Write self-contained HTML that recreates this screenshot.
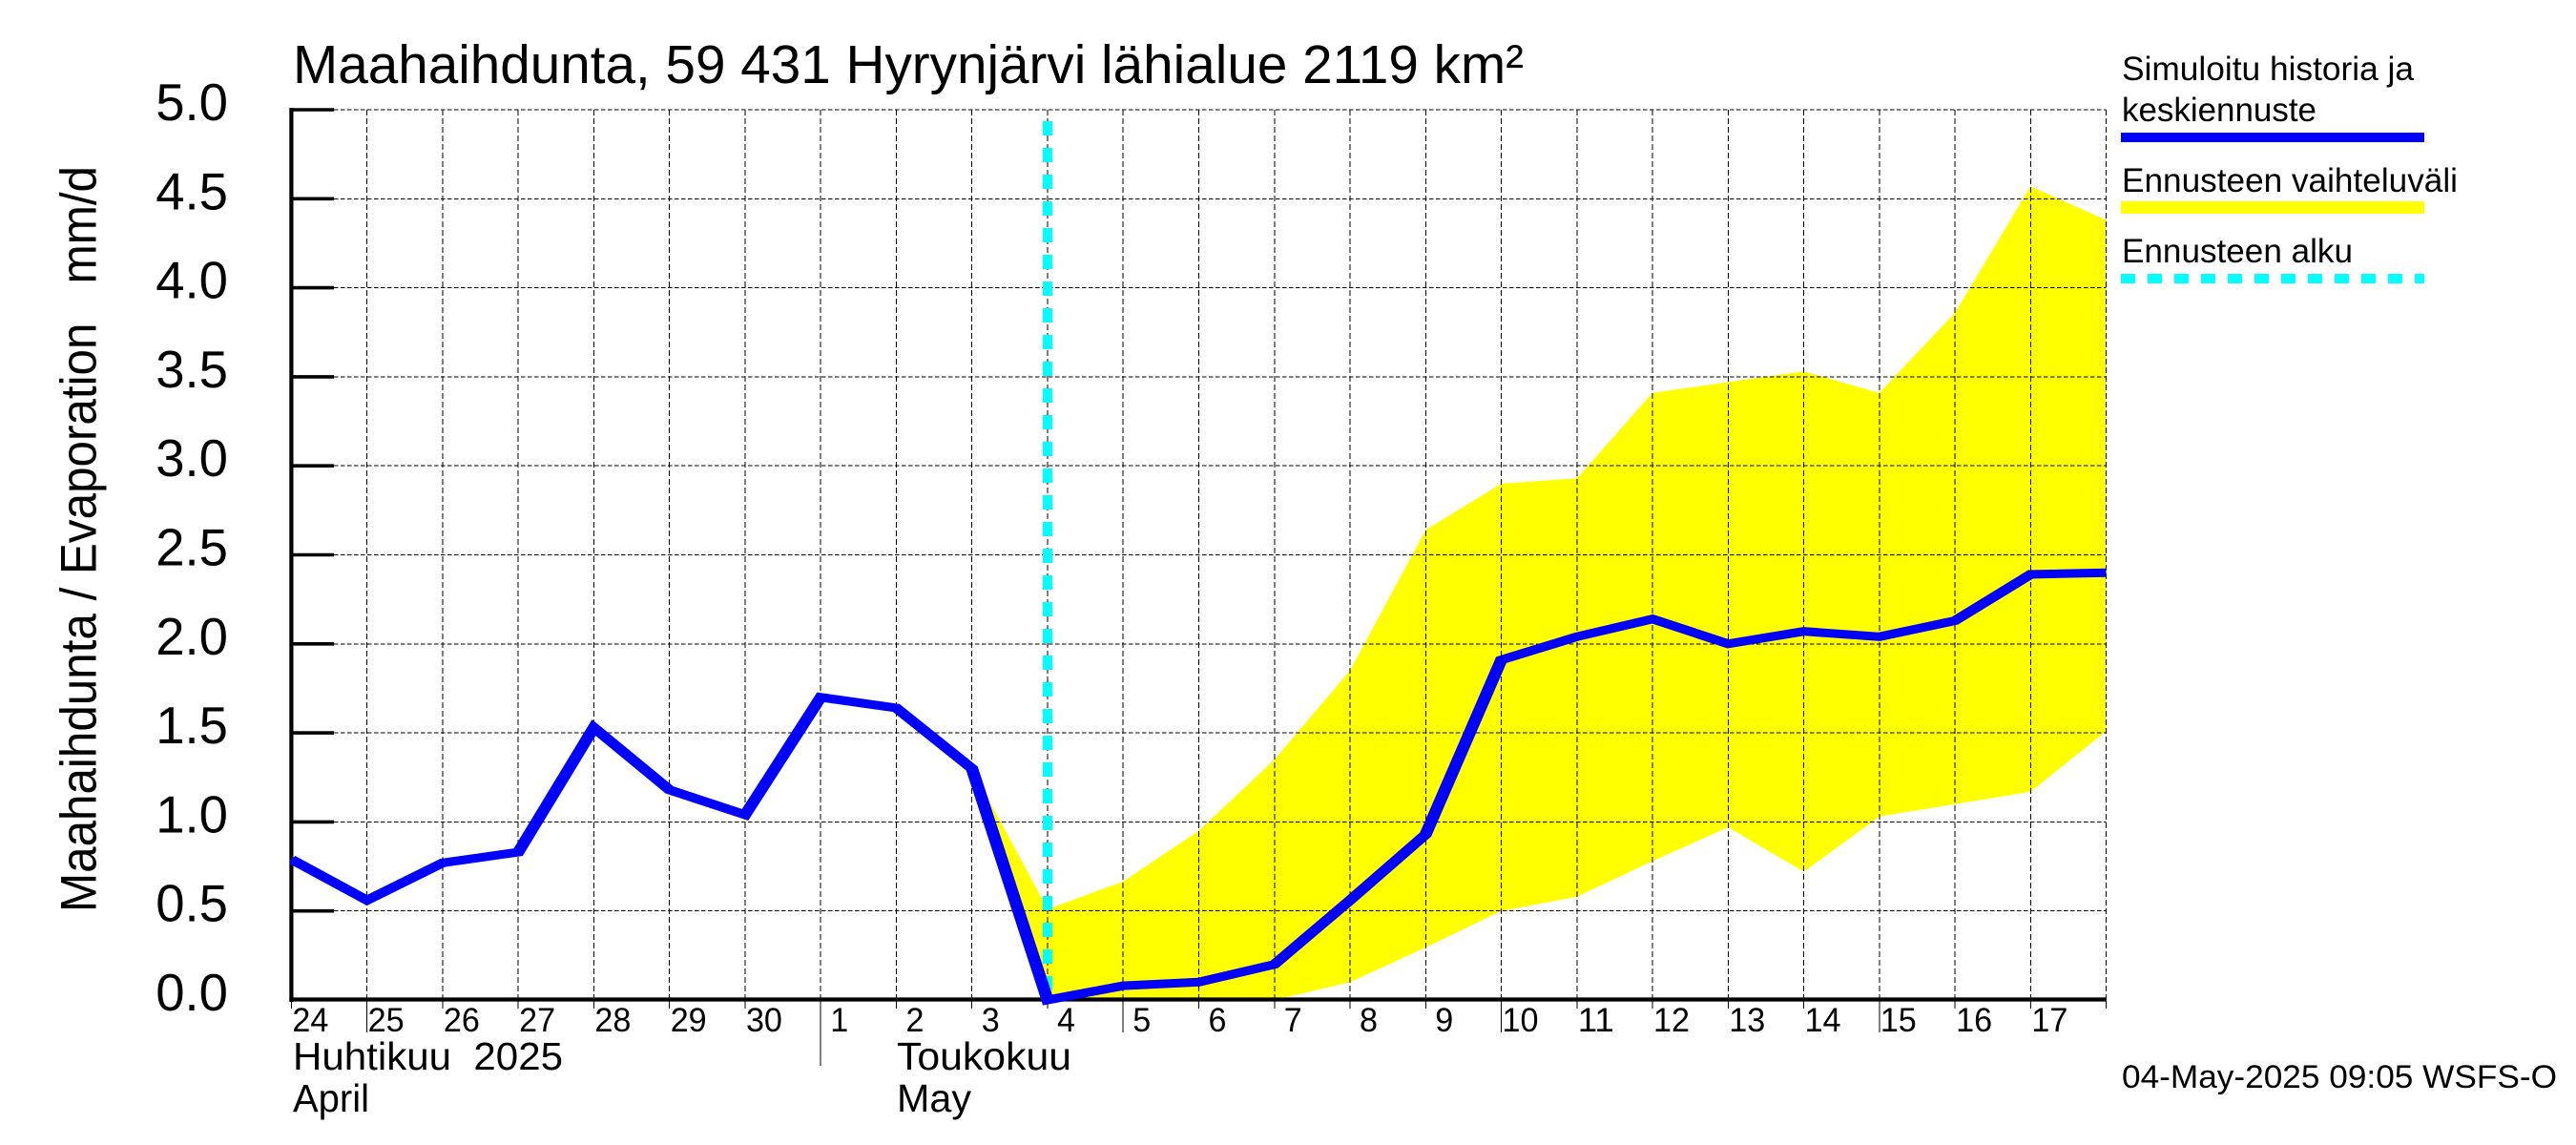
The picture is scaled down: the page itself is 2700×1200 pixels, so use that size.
<!DOCTYPE html>
<html lang="fi">
<head>
<meta charset="utf-8">
<title>Maahaihdunta, 59 431 Hyrynjärvi lähialue 2119 km²</title>
<style>
html,body{margin:0;padding:0;background:#fff;width:2700px;height:1200px;overflow:hidden}
svg{display:block}
text{font-family:"Liberation Sans",sans-serif;fill:#000}
</style>
</head>
<body>
<svg id="chart" xmlns="http://www.w3.org/2000/svg" width="2700" height="1200" viewBox="0 0 2700 1200">
  <rect x="0" y="0" width="2700" height="1200" fill="#fff"/>
  <g id="band-layer"></g>
  <g id="grid-layer" shape-rendering="crispEdges"></g>
  <g id="cyan-layer"></g>
  <g id="axis-layer"></g>
  <g id="line-layer"></g>

  <text x="307" y="87" font-size="57" textLength="1290" lengthAdjust="spacingAndGlyphs">Maahaihdunta, 59 431 Hyrynjärvi lähialue 2119 km²</text>
  <text transform="translate(100.5,956) rotate(-90)" font-size="53" textLength="782" lengthAdjust="spacingAndGlyphs" xml:space="preserve">Maahaihdunta / Evaporation   mm/d</text>

  <text x="307" y="1121" font-size="41" textLength="283" lengthAdjust="spacingAndGlyphs" xml:space="preserve">Huhtikuu  2025</text>
  <text x="307" y="1165" font-size="41" textLength="80" lengthAdjust="spacingAndGlyphs">April</text>
  <text x="940" y="1121" font-size="41" textLength="183" lengthAdjust="spacingAndGlyphs">Toukokuu</text>
  <text x="940" y="1165" font-size="41" textLength="78" lengthAdjust="spacingAndGlyphs">May</text>

  <g>
    <text x="2224" y="84" font-size="35" textLength="306" lengthAdjust="spacingAndGlyphs">Simuloitu historia ja</text>
    <text x="2224" y="127" font-size="35" textLength="204" lengthAdjust="spacingAndGlyphs">keskiennuste</text>
    <rect x="2223" y="139" width="318" height="10" fill="#0000ff"/>
    <text x="2224" y="201" font-size="35" textLength="352" lengthAdjust="spacingAndGlyphs">Ennusteen vaihteluväli</text>
    <rect x="2223" y="211" width="318" height="13" fill="#ffff00"/>
    <text x="2224" y="275" font-size="35" textLength="242" lengthAdjust="spacingAndGlyphs">Ennusteen alku</text>
    <line x1="2223" y1="292" x2="2541" y2="292" stroke="#00ffff" stroke-width="10" stroke-dasharray="15 13"/>
  </g>

  <text x="2224" y="1140" font-size="34" textLength="456" lengthAdjust="spacingAndGlyphs">04-May-2025 09:05 WSFS-O</text>
</svg>

<script>
const dayLabels = ["24","25","26","27","28","29","30","1","2","3","4","5","6","7","8","9","10","11","12","13","14","15","16","17","18"];
const longTickDays = ["25","5","10","15"];
const monthStartDays = ["1"];
const yTickValues = [0, 0.5, 1, 1.5, 2, 2.5, 3, 3.5, 4, 4.5, 5];
const yTickLabels = ["0.0","0.5","1.0","1.5","2.0","2.5","3.0","3.5","4.0","4.5","5.0"];
const historyAndMean = [0.79,0.56,0.77,0.83,1.53,1.18,1.04,1.70,1.64,1.30,0.00,0.08,0.10,0.20,0.56,0.93,1.91,2.04,2.14,2.00,2.07,2.04,2.13,2.39,2.40];
const forecastDays = ["3","4","5","6","7","8","9","10","11","12","13","14","15","16","17","18"];
const rangeUpper = [1.30,0.51,0.665,0.95,1.35,1.85,2.64,2.90,2.93,3.41,3.47,3.53,3.41,3.86,4.57,4.38];
const rangeLower = [1.30,0.00,0.00,0.00,0.00,0.10,0.295,0.50,0.58,0.78,0.97,0.72,1.03,1.10,1.17,1.51];
const forecastStartDay = "4";

const SVG_NS = "http://www.w3.org/2000/svg";
const plotLeft = 305.4, plotRight = 2207.6, plotTop = 115, plotBottom = 1048;
const yMax = 5;
const penStretch = 1.45;

function xScale(i) { return plotLeft + (plotRight - plotLeft) * i / (dayLabels.length - 1); }
function yScale(v) { return plotBottom - (plotBottom - plotTop) * v / yMax; }
function dayIndex(label, fromEnd) {
  return fromEnd ? dayLabels.lastIndexOf(label) : dayLabels.indexOf(label);
}
function make(tag, attrs, parent) {
  const el = document.createElementNS(SVG_NS, tag);
  for (const k in attrs) el.setAttribute(k, attrs[k]);
  parent.appendChild(el);
  return el;
}

const bandLayer = document.getElementById("band-layer");
const cyanLayer = document.getElementById("cyan-layer");
const gridLayer = document.getElementById("grid-layer");
const axisLayer = document.getElementById("axis-layer");
const lineLayer = document.getElementById("line-layer");

/* forecast range polygon */
const upperPts = forecastDays.map((d, k) => xScale(dayIndex(d, true)).toFixed(1) + "," + yScale(rangeUpper[k]).toFixed(1));
const lowerPts = forecastDays.map((d, k) => xScale(dayIndex(d, true)).toFixed(1) + "," + yScale(rangeLower[k]).toFixed(1)).reverse();
const band = make("polygon", { points: upperPts.concat(lowerPts).join(" "), fill: "#ffff00" }, bandLayer);



/* forecast start marker */
const startX = xScale(dayIndex(forecastStartDay, true));
const startLine = make("line", { x1: startX, x2: startX, y1: 127, y2: plotBottom, stroke: "#00ffff", "stroke-width": 10, "stroke-dasharray": "15 13" }, cyanLayer);



/* horizontal grid + y ticks */
yTickValues.forEach((v, i) => {
  const y = yScale(v);
  if (v > 0) {
    const gl = make("line", { x1: 350, x2: plotRight, y1: y, y2: y, stroke: "#000", "stroke-width": 1, "stroke-dasharray": "4.5 2.5" }, gridLayer);
    
    
    const tick = make("line", { x1: plotLeft, x2: 350, y1: y, y2: y, stroke: "#000", "stroke-width": 3.6 }, axisLayer);
    
    
  }
  const lab = make("text", { x: 239, y: y + 11, "font-size": 54.5, "text-anchor": "end" }, axisLayer);
  lab.textContent = yTickLabels[i];
  
  
});

/* vertical grid + x ticks */
dayLabels.forEach((d, i) => {
  const x = xScale(i);
  if (i > 0) {
    const gl = make("line", { x1: x, x2: x, y1: plotTop, y2: plotBottom, stroke: "#000", "stroke-width": 1, "stroke-dasharray": "6 3" }, gridLayer);
    
    
  }
  let tickEnd = 1057;
  if (longTickDays.indexOf(d) >= 0) tickEnd = 1082;
  if (monthStartDays.indexOf(d) >= 0) tickEnd = 1117;
  const tick = make("line", { x1: x, x2: x, y1: plotBottom, y2: tickEnd, stroke: "#000", "stroke-width": 1, "shape-rendering": "crispEdges" }, axisLayer);
  
  
  if (i < dayLabels.length - 1) {
    const lab = make("text", { x: x + (d.length === 1 ? 10 : 1), y: 1081, "font-size": 35, textLength: d.length === 1 ? 19 : 38, lengthAdjust: "spacingAndGlyphs" }, axisLayer);
    lab.textContent = d;
    
    
  }
});

/* axis lines */
const yAxis = make("line", { x1: plotLeft, x2: plotLeft, y1: plotTop - 2, y2: plotBottom + 2, stroke: "#000", "stroke-width": 4.2 }, axisLayer);


const xAxis = make("line", { x1: plotLeft - 2, x2: plotRight, y1: plotBottom - 0.5, y2: plotBottom - 0.5, stroke: "#000", "stroke-width": 4.2 }, axisLayer);



/* mean line: drawn through a horizontally stretched group so the pen is wider than tall */
const clip = make("clipPath", { id: "plot-clip" }, lineLayer);
make("rect", { x: plotLeft - 2, y: 0, width: plotRight - plotLeft + 2, height: 1200 }, clip);
const clipGroup = make("g", { "clip-path": "url(#plot-clip)" }, lineLayer);
const penGroup = make("g", { transform: "scale(" + penStretch + ",1)" }, clipGroup);
const linePts = historyAndMean.map((v, i) => (xScale(i) / penStretch).toFixed(2) + "," + yScale(v).toFixed(1)).join(" ");
const meanLine = make("polyline", { points: linePts, fill: "none", stroke: "#0000ff", "stroke-width": 9, "stroke-linejoin": "miter" }, penGroup);


</script>
</body>
</html>
